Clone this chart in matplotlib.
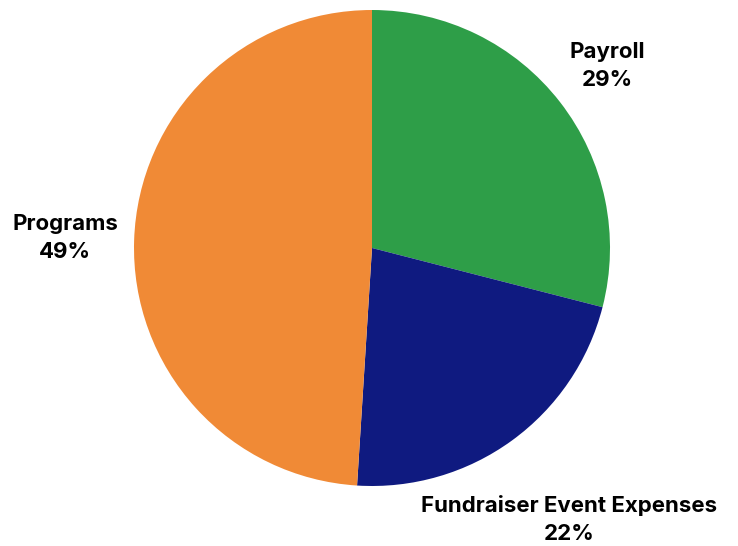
import numpy as np
import matplotlib.pyplot as plt

categories = ['Payroll', 'Fundraiser Event Expenses', 'Programs']
shares = [29, 22, 49]
colors = ['#2E9E48', '#0F1A80', '#F08A36']
label_dist = [1.25, 1.41, 1.29]

fig = plt.figure(figsize=(7.38, 5.46), dpi=100)

# pie centred near (372, 248) px, radius ~238 px
cx, cy, r = 372 / 738, 1 - 248 / 546, 238 / 546
ax = fig.add_axes([cx - r * 546 / 738, cy - r, 2 * r * 546 / 738, 2 * r])

wedges, _ = ax.pie(shares, colors=colors, startangle=90, counterclock=False,
                   wedgeprops=dict(linewidth=0))
ax.set_xlim(-1, 1)
ax.set_ylim(-1, 1)
ax.set_aspect('equal')

for w, name, val, d in zip(wedges, categories, shares, label_dist):
    mid = np.deg2rad((w.theta1 + w.theta2) / 2)
    ax.text(d * np.cos(mid), d * np.sin(mid), f'{name}\n{val}%',
            ha='center', va='center', fontsize=16, fontweight='bold',
            family=['Inter', 'DejaVu Sans'], linespacing=1.5, clip_on=False)

fig.savefig('out.png', dpi=100)
